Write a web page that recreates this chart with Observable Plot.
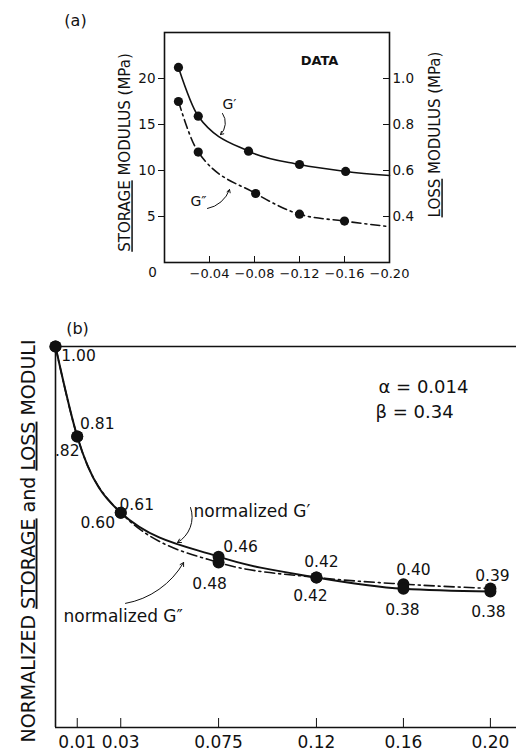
<!DOCTYPE html>
<html><head><meta charset="utf-8">
<script src="https://cdn.jsdelivr.net/npm/d3@7"></script>
<script src="https://cdn.jsdelivr.net/npm/@observablehq/plot@0.6"></script>
<style>
html,body{margin:0;padding:0;background:#fff;}
#wrap{position:relative;width:516px;height:754px;overflow:hidden;font-family:"DejaVu Sans",sans-serif;}
#wrap svg{position:absolute;left:0;}
</style></head><body><div id="wrap"></div>
<script>
// ---------- Panel (a): measured data ----------
const strainGpA  = [-0.0124, -0.030, -0.0747, -0.120, -0.161];
const storageMod = [21.2, 15.9, 12.1, 10.65, 9.9];          // MPa (left axis)
const strainGppA = [-0.0124, -0.030, -0.081, -0.120, -0.160];
const lossMod    = [0.90, 0.68, 0.50, 0.41, 0.38];            // MPa (right axis)
const curveEndStrain = -0.20;
const storageEnd = 9.45;
const lossEnd = 0.356;
const xTicksA = [-0.04, -0.08, -0.12, -0.16, -0.20];
const xTickLabelsA = ["−0.04", "−0.08", "−0.12", "−0.16", "−0.20"];
const storageTicks = [5, 10, 15, 20];
const lossTicks = [0.4, 0.6, 0.8, 1.0];
const lossTickLabels = ["0.4", "0.6", "0.8", "1.0"];

// ---------- Panel (b): normalized moduli ----------
const strainB = [0, 0.01, 0.03, 0.075, 0.12, 0.16, 0.20];
const normGp  = [1.00, 0.771, 0.577, 0.465, 0.412, 0.383, 0.376];
const normGpp = [1.00, 0.771, 0.577, 0.450, 0.412, 0.395, 0.384];
const upperLabels = ["1.00", "0.81", "0.61", "0.46", "0.42", "0.40", "0.39"];
const lowerLabels = [null, ".82", "0.60", "0.48", "0.42", "0.38", "0.38"];
const xTicksB = [0.01, 0.03, 0.075, 0.12, 0.16, 0.20];
const xTickLabelsB = ["0.01", "0.03", "0.075", "0.12", "0.16", "0.20"];
const alphaText = "α = 0.014";
const betaText = "β = 0.34";

// ---------- build tables ----------
const lossToStorage = v => (v - 0.2) * 25;
const gpA  = strainGpA.map((x, i) => ({x, v: storageMod[i]}));
const gppA = strainGppA.map((x, i) => ({x, v: lossMod[i]}));
const gpCurveA  = [...gpA,  {x: curveEndStrain, v: storageEnd}];
const gppCurveA = [...gppA, {x: curveEndStrain, v: lossEnd}];
const gpB  = strainB.map((x, i) => ({x, v: normGp[i]}));
const gppB = strainB.map((x, i) => ({x, v: normGpp[i]}));

const INK = "#111";
const FONT = "DejaVu Sans";
const C = {textAnchor: "middle", lineAnchor: "middle"};

function underline(svg, full, words) {
  d3.select(svg).selectAll("text").filter(function () { return this.textContent === full; }).each(function () {
    const t = d3.select(this);
    t.text(null);
    full.split(new RegExp("(" + words.join("|") + ")")).forEach(p => {
      if (!p) return;
      const ts = t.append("tspan").text(p);
      if (words.includes(p)) ts.style("text-decoration", "underline");
    });
  });
}

// ---------- Plot (a) ----------
const titleA_L = "STORAGE MODULUS (MPa)";
const titleA_R = "LOSS MODULUS (MPa)";
const plotA = Plot.plot({
  width: 516, height: 295,
  marginLeft: 164, marginRight: 127, marginTop: 32, marginBottom: 33,
  style: {fontFamily: FONT, fontSize: "13px", color: INK, background: "transparent"},
  x: {domain: [0, -0.20]},
  y: {domain: [0, 25]},
  marks: [
    Plot.frame({strokeWidth: 1.6}),
    Plot.axisX({ticks: xTicksA, tickSize: -6, tickPadding: 12, fontSize: 13,
      tickFormat: d => xTickLabelsA[xTicksA.indexOf(d)], label: null}),
    Plot.axisY({ticks: storageTicks, anchor: "left", tickSize: 6, tickPadding: 3, fontSize: 13.5, label: null}),
    Plot.axisY({ticks: lossTicks.map(lossToStorage), anchor: "right", tickSize: -7, tickPadding: 10, fontSize: 13.5,
      tickFormat: (d, i) => lossTickLabels[i], label: null}),
    Plot.line(gpCurveA, {x: "x", y: "v", curve: "monotone-x", strokeWidth: 1.6, stroke: INK}),
    Plot.line(gppCurveA, {x: "x", y: d => lossToStorage(d.v), curve: "monotone-x", strokeWidth: 1.6, stroke: INK, strokeDasharray: "9,4,2,4"}),
    Plot.dot(gpA, {x: "x", y: "v", r: 4.6, fill: INK}),
    Plot.dot(gppA, {x: "x", y: d => lossToStorage(d.v), r: 4.6, fill: INK}),
    Plot.text(["(a)"], {...C, text: d => d, frameAnchor: "top-left", dx: -89, dy: -12, fontSize: 16}),
    Plot.text(["DATA"], {...C, text: d => d, frameAnchor: "top-left", dx: 155, dy: 28, fontSize: 13, fontWeight: "bold"}),
    Plot.text(["0"], {...C, text: d => d, frameAnchor: "bottom-left", dx: -12, dy: 10, fontSize: 13.5}),
    Plot.text([titleA_L], {...C, text: d => d, frameAnchor: "left", dx: -39, dy: 5, rotate: -90, fontSize: 15}),
    Plot.text([titleA_R], {...C, text: d => d, frameAnchor: "right", dx: 46, dy: -13, rotate: -90, fontSize: 15}),
    Plot.text(["G′"], {text: d => d, x: () => -0.0578, y: () => 17.2, fontSize: 14}),
    Plot.text(["G″"], {text: d => d, x: () => -0.0302, y: () => 6.63, fontSize: 14}),
    Plot.arrow([0], {x1: () => -0.0516, y1: () => 16.2, x2: () => -0.0498, y2: () => 13.9, bend: 40, headLength: 5, strokeWidth: 1, stroke: INK}),
    Plot.arrow([0], {x1: () => -0.0382, y1: () => 5.87, x2: () => -0.0578, y2: () => 7.93, bend: -30, headLength: 5, strokeWidth: 1, stroke: INK})
  ]
});
plotA.style.top = "0px";
underline(plotA, titleA_L, ["STORAGE"]);
underline(plotA, titleA_R, ["LOSS"]);

// ---------- Plot (b) ----------
const titleB = "NORMALIZED STORAGE and LOSS MODULI";
const upperOff = [[23, 10], [20, -12], [16, -8], [22, -10], [5, -15], [10, -19], [2, -16]];
const lowerOff = [null, [-10, 15], [-23, 10], [-9, 27], [-6, 19], [-1, 21], [-2, 20]];
const labelMarks = [];
strainB.forEach((s, i) => {
  labelMarks.push(Plot.text([i], {x: j => strainB[j], y: j => normGp[j], text: j => upperLabels[j],
    dx: upperOff[i][0], dy: upperOff[i][1], fontSize: 15.5}));
  if (lowerLabels[i]) labelMarks.push(Plot.text([i], {x: j => strainB[j], y: j => normGp[j], text: j => lowerLabels[j],
    dx: lowerOff[i][0], dy: lowerOff[i][1], fontSize: 15.5}));
});

const plotB = Plot.plot({
  width: 516, height: 454,
  marginLeft: 55, marginRight: 0, marginTop: 46, marginBottom: 27,
  style: {fontFamily: FONT, fontSize: "15px", color: INK, background: "transparent"},
  x: {domain: [0, 0.212]},
  y: {domain: [0.03, 1], axis: null},
  marks: [
    Plot.ruleY([1], {strokeWidth: 1.6, stroke: INK}),
    Plot.ruleY([0.03], {strokeWidth: 1.6, stroke: INK}),
    Plot.ruleX([0], {strokeWidth: 1.6, stroke: INK}),
    Plot.axisX({ticks: xTicksB, tickSize: -9, tickPadding: 17, fontSize: 17,
      tickFormat: d => xTickLabelsB[xTicksB.indexOf(d)], label: null}),
    Plot.line(gppB, {x: "x", y: "v", curve: "monotone-x", strokeWidth: 1.6, stroke: INK, strokeDasharray: "10,4,2,4"}),
    Plot.line(gpB, {x: "x", y: "v", curve: "monotone-x", strokeWidth: 2, stroke: INK}),
    Plot.dot(gppB, {x: "x", y: "v", r: 6, fill: INK}),
    Plot.dot(gpB, {x: "x", y: "v", r: 6, fill: INK}),
    ...labelMarks,
    Plot.text(["(b)"], {...C, text: d => d, frameAnchor: "top-left", dx: 22, dy: -18, fontSize: 16}),
    Plot.text([titleB], {...C, text: d => d, frameAnchor: "left", dx: -27, dy: 4, rotate: -90, fontSize: 19}),
    Plot.text([alphaText], {text: d => d, frameAnchor: "top-left", dx: 323, dy: 41, textAnchor: "start", lineAnchor: "middle", fontSize: 18}),
    Plot.text([betaText], {text: d => d, frameAnchor: "top-left", dx: 320, dy: 66, textAnchor: "start", lineAnchor: "middle", fontSize: 18}),
    Plot.text(["normalized G′"], {text: d => d, frameAnchor: "top-left", dx: 138, dy: 165, textAnchor: "start", lineAnchor: "middle", fontSize: 17}),
    Plot.text(["normalized G″"], {text: d => d, frameAnchor: "top-left", dx: 8, dy: 270, textAnchor: "start", lineAnchor: "middle", fontSize: 17}),
    Plot.arrow([0], {x1: () => 0.0621, y1: () => 0.590, x2: () => 0.0561, y2: () => 0.501, bend: 40, headLength: 6, strokeWidth: 1, stroke: INK}),
    Plot.arrow([0], {x1: () => 0.0322, y1: () => 0.346, x2: () => 0.0589, y2: () => 0.450, bend: -25, headLength: 6, strokeWidth: 1, stroke: INK})
  ]
});
plotB.style.top = "300px";
underline(plotB, titleB, ["STORAGE", "LOSS"]);

const wrap = document.getElementById("wrap");
wrap.appendChild(plotA);
wrap.appendChild(plotB);
</script></body></html>
